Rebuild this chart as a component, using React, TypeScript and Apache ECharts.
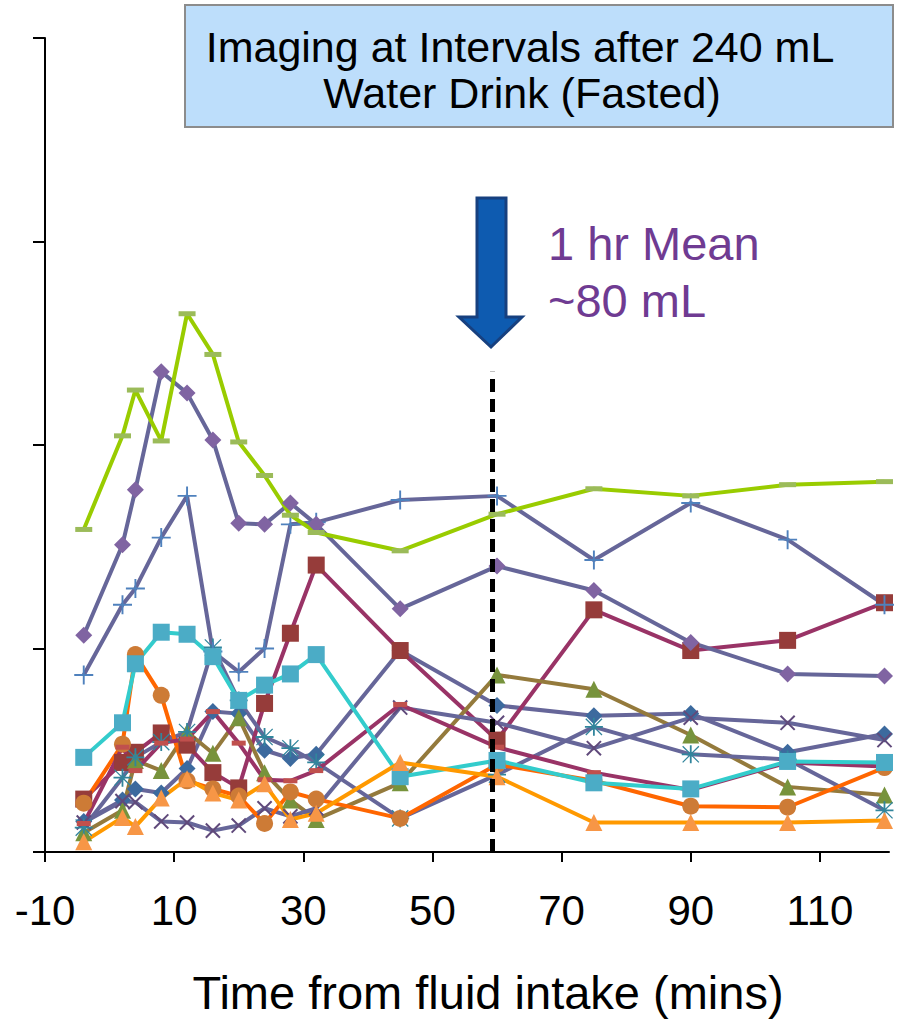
import React, { useEffect, useRef } from "react";
import * as echarts from "echarts";

const times = [-4, 2, 4, 8, 12, 16, 20, 24, 28, 32, 45, 60, 75, 90, 105, 120];
const xTickValues = [-10, 10, 30, 50, 70, 90, 110];

const blueDiamond = [15, 25.5, 31, 29, 41, 69, 68, 50, 46, 48, 99, 72, 67, 68, 49, 58];
const redSquare = [26, 44, 49, 58.5, 52.5, 39, 31.5, 73, 107.5, 141, 99, 55, 119, 99, 104, 122.5];
const oliveTriangle = [9.5, 20.5, 45, 40, 59, 48.5, 66, 39, 25.5, 16, 34, 87, 80, 57.5, 32, 28];
const purpleX = [14.5, 25, 24.5, 15, 14.5, 10.5, 13, 21.5, 17.5, 21.5, 71, 63.5, 51, 66, 63.5, 55];
const tealStar = [12, 36.5, 46.5, 54, 59, 100.5, 74.5, 56.5, 51, 44, 16.5, 38, 61.5, 48, 45.5, 20.5];
const orangeCircle = [24, 53, 97, 77, 35, 31, 27.5, 14, 29.5, 26, 16.5, 43, 35, 22.5, 22, 41.5];
const bluePlus = [87, 121.5, 129.5, 154.5, 175, 98.5, 88.5, 100, 161, 162, 173, 175, 143.5, 171.5, 153.5, 121.5];
const maroonDash = [14, 51.5, 40, 53.5, 55.5, 69, 53.5, 35.5, 35, 40, 72.5, 51.5, 39, 30.5, 44, 42];
const purpleDiamond = [106.5, 151, 178, 236, 225.5, 202.5, 161.5, 161, 171.5, 161, 119.5, 140.5, 128.5, 103, 87.5, 86.5];
const cyanSquare = [46.5, 63.5, 92.5, 108, 107, 96, 74.5, 82, 87.5, 97, 37, 45, 34, 31, 44.5, 44];
const orangeTriangle = [5, 17, 12.5, 26.5, 36, 29, 25.5, 33.5, 16, 19, 44, 37, 14.5, 14.5, 14.5, 15.5];
const greenDash = [158.5, 204.5, 227, 202, 264.5, 244.5, 201.5, 185, 165.5, 157, 148, 166, 178.5, 175, 180.5, 182];

const oneHourLine = [
  [59.3, 0],
  [59.3, 236],
];

const titleLines = ["Imaging at Intervals after 240 mL", "Water Drink (Fasted)"];
const noteLines = ["1 hr Mean", "~80 mL"];
const xAxisName = "Time from fluid intake (mins)";

const PLUS = "path://M9,0H11V20H9Z M0,9H20V11H0Z";
const STAR =
  "path://M9,0H11V20H9Z M0,9H20V11H0Z M1.5,0.5L19.5,18.5L18.5,19.5L0.5,1.5Z M18.5,0.5L19.5,1.5L1.5,19.5L0.5,18.5Z";

const FONT = "Liberation Sans, Arial, sans-serif";

function mk(
  name: string,
  values: number[],
  lineColor: string,
  markerColor: string,
  symbol: string,
  symbolSize: any,
  extra: any = {}
) {
  return {
    name,
    type: "line",
    data: times.map((t, i) => [t, values[i]]),
    symbol,
    symbolSize,
    showSymbol: true,
    lineStyle: { color: lineColor, width: 4 },
    itemStyle: { color: markerColor, borderWidth: 0 },
    emphasis: { disabled: true },
    ...extra,
  };
}

export default function App() {
  const ref = useRef<HTMLDivElement>(null);
  useEffect(() => {
    if (!ref.current) return;
    const chart = echarts.init(ref.current, undefined, { renderer: "svg" });
    const gray = "#666699";
    chart.setOption({
      animation: false,
      backgroundColor: "#ffffff",
      grid: { left: 45, right: 23, top: 38, bottom: 171, containLabel: false },
      xAxis: {
        type: "value",
        min: -10,
        max: 120.7,
        axisLine: { show: true, onZero: false, lineStyle: { color: "#000", width: 2 } },
        axisTick: {
          show: true,
          length: 10,
          customValues: xTickValues,
          lineStyle: { color: "#000", width: 2 },
        },
        axisLabel: {
          customValues: xTickValues,
          margin: 37,
          fontFamily: FONT,
          fontSize: 42,
          color: "#000",
        },
        splitLine: { show: false },
      },
      yAxis: {
        type: "value",
        min: 0,
        max: 400,
        interval: 100,
        axisLine: { show: true, onZero: false, lineStyle: { color: "#000", width: 2 } },
        axisTick: { show: true, length: 12, lineStyle: { color: "#000", width: 2 } },
        axisLabel: { show: false },
        splitLine: { show: false },
      },
      series: [
        mk("A", blueDiamond, gray, "#3C6A9E", "diamond", 17),
        mk("B", redSquare, "#993366", "#963C3A", "rect", 17),
        mk("C", oliveTriangle, "#947A3C", "#77933C", "triangle", 17),
        mk("D", purpleX, gray, "#604A7B", PLUS, 20, { symbolRotate: 45 }),
        mk("E", tealStar, gray, "#31859C", STAR, 18),
        mk("F", orangeCircle, "#FF6600", "#CD7B36", "circle", 17),
        mk("G", bluePlus, gray, "#4F81BD", PLUS, 19),
        mk("H", maroonDash, "#993366", "#C0504D", "rect", [14, 5]),
        mk("I", purpleDiamond, gray, "#8064A2", "diamond", 17),
        mk("J", cyanSquare, "#33CCCC", "#4BACC6", "rect", 17),
        mk("K", orangeTriangle, "#FF9900", "#F79646", "triangle", 17),
        mk("L", greenDash, "#99CC00", "#9BBB59", "rect", [17, 5]),
        {
          name: "1 hr",
          type: "line",
          data: oneHourLine,
          symbol: "none",
          lineStyle: { color: "#000", width: 5, type: [13, 7] },
          emphasis: { disabled: true },
          z: 5,
        },
      ],
      graphic: [
        {
          type: "rect",
          shape: { x: 185, y: 5, width: 708, height: 122 },
          style: { fill: "#BDDEFB", stroke: "#8C8C8C", lineWidth: 2 },
          z: 10,
        },
        {
          type: "text",
          x: 520,
          y: 47,
          style: {
            text: titleLines[0],
            fontFamily: FONT,
            fontSize: 43,
            fill: "#000",
            align: "center",
            verticalAlign: "middle",
          },
          z: 11,
        },
        {
          type: "text",
          x: 522,
          y: 93,
          style: {
            text: titleLines[1],
            fontFamily: FONT,
            fontSize: 43,
            fill: "#000",
            align: "center",
            verticalAlign: "middle",
          },
          z: 11,
        },
        {
          type: "polygon",
          shape: {
            points: [
              [477, 198],
              [506, 198],
              [506, 317],
              [522, 317],
              [491, 347],
              [459, 317],
              [477, 317],
            ],
          },
          style: { fill: "#0E5BB0", stroke: "#17407F", lineWidth: 3 },
          z: 10,
        },
        {
          type: "text",
          x: 548,
          y: 243,
          style: {
            text: noteLines[0],
            fontFamily: FONT,
            fontSize: 47,
            fill: "#6F3B92",
            align: "left",
            verticalAlign: "middle",
          },
          z: 11,
        },
        {
          type: "text",
          x: 548,
          y: 300,
          style: {
            text: noteLines[1],
            fontFamily: FONT,
            fontSize: 47,
            fill: "#6F3B92",
            align: "left",
            verticalAlign: "middle",
          },
          z: 11,
        },
        {
          type: "text",
          x: 488,
          y: 992,
          style: {
            text: xAxisName,
            fontFamily: FONT,
            fontSize: 47,
            fill: "#000",
            align: "center",
            verticalAlign: "middle",
          },
          z: 11,
        },
      ],
    });
    return () => chart.dispose();
  }, []);
  return (
    <div
      ref={ref}
      style={{ position: "absolute", left: 0, top: 0, width: 912, height: 1023 }}
    />
  );
}
